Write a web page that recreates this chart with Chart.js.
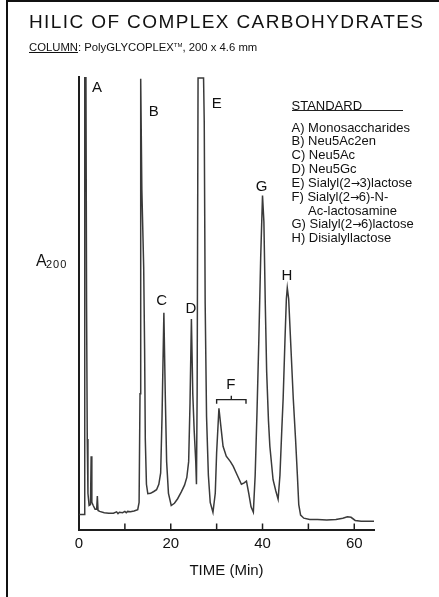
<!DOCTYPE html>
<html>
<head>
<meta charset="utf-8">
<script src="https://cdn.jsdelivr.net/npm/chart.js@4.4.1/dist/chart.umd.min.js"></script>
<style>
  html, body { margin: 0; padding: 0; background: #fff; }
  #wrap { position: relative; width: 439px; height: 597px; overflow: hidden; background: #fff; font-family: "Liberation Sans", Arial, sans-serif; color: #111; }
  #frameTop { position: absolute; left: 6px; top: 0; width: 433px; height: 2px; background: #111; }
  #frameLeft { position: absolute; left: 6px; top: 0; width: 2px; height: 597px; background: #111; }
  canvas { position: absolute; left: 0; top: 0; }
  .txt { position: absolute; white-space: nowrap; }
  #title { left: 29px; top: 12.2px; font-size: 19px; line-height: 19px; letter-spacing: 1.4px; }
  #subtitle { left: 29px; top: 40.4px; font-size: 11.3px; line-height: 11.3px; }
  #subtitle u { text-decoration-thickness: 1px; text-underline-offset: 1px; }
  #subtitle sup { font-size: 6px; vertical-align: 4px; }
  #stdHead { left: 291.5px; top: 98.7px; font-size: 13px; line-height: 13.85px; }
  #stdRule { position: absolute; left: 291.5px; top: 110.2px; width: 111px; height: 1.3px; background: #222; }
  #stdList { left: 291.5px; top: 120.5px; font-size: 13px; line-height: 13.85px; }
  #stdList div { height: 13.85px; overflow: visible; }
  #stdList .ind { padding-left: 16.5px; }
  #stdList .ar { font-family: "DejaVu Sans", sans-serif; font-size: 11px; line-height: 0; letter-spacing: -0.5px; }
  #yA { left: 36px; top: 253.2px; font-size: 16px; line-height: 16px; }
  #ySub { left: 46px; top: 259.2px; font-size: 11px; line-height: 11px; letter-spacing: 1px; }
</style>
</head>
<body>
<div id="wrap">
  <canvas id="c" width="439" height="597"></canvas>
  <div id="frameTop"></div>
  <div id="frameLeft"></div>
  <div class="txt" id="title">HILIC OF COMPLEX CARBOHYDRATES</div>
  <div class="txt" id="subtitle"><u>COLUMN</u>: PolyGLYCOPLEX<sup>TM</sup>, 200 x 4.6 mm</div>
  <div class="txt" id="stdHead">STANDARD</div>
  <div id="stdRule"></div>
  <div class="txt" id="stdList">
    <div>A) Monosaccharides</div>
    <div>B) Neu5Ac2en</div>
    <div>C) Neu5Ac</div>
    <div>D) Neu5Gc</div>
    <div>E) Sialyl(2<span class="ar">→</span>3)lactose</div>
    <div>F) Sialyl(2<span class="ar">→</span>6)-N-</div>
    <div class="ind">Ac-lactosamine</div>
    <div>G) Sialyl(2<span class="ar">→</span>6)lactose</div>
    <div>H) Disialyllactose</div>
  </div>
  <div class="txt" id="yA">A</div>
  <div class="txt" id="ySub">200</div>
</div>
<script>
// ---- Data ----
const times = [
  0, 1.1, 1.25, 1.5, 1.65, 1.8, 1.95, 2.2, 2.5, 2.65, 2.8, 3.1, 3.5, 3.85, 4.0, 4.15, 4.5,
  5.5, 6.5, 7.5, 8.2, 8.5, 8.8, 9.5, 10.0, 10.3, 10.6, 11.2, 12.0, 12.8,
  13.1, 13.3, 13.45, 13.7, 14.1, 14.3, 14.45, 14.7, 15.0,
  15.6, 16.3, 16.9, 17.4, 17.8, 18.1, 18.5, 18.8, 19.1, 19.5, 20.1,
  20.8, 21.5, 22.3, 23.0, 23.5, 23.9, 24.2, 24.5, 24.8, 25.1, 25.45, 25.6, 25.75,
  25.95, 27.15, 27.3, 27.5, 27.8, 28.2, 28.6, 29.2,
  29.7, 30.0, 30.5, 30.9, 31.4, 32.1, 33.0, 33.6, 34.5, 35.4, 36.0, 36.5, 37.0, 37.5, 38.0,
  38.4, 38.8, 39.2, 39.6, 40.0, 40.3, 40.6, 40.9, 41.3, 41.6, 42.3, 42.9, 43.4,
  43.8, 44.2, 44.5, 44.9, 45.2, 45.4, 45.7, 46.2, 46.7, 47.2, 47.6, 47.9, 48.3, 49.0, 50.3,
  52, 54, 56, 57.5, 58.5, 59.3, 60.2, 61.5, 63, 64.3
];
const absorbance = [
  3.3, 3.3, 105, 105, 50, 20, 8, 5.3, 5.5, 16.2, 6, 5.3, 4.5, 4.5, 7.4, 4.2, 4.0,
  3.7, 3.6, 3.6, 3.9, 3.5, 3.8, 3.7, 4.0, 3.7, 4.0, 3.9, 4.1, 4.4,
  6, 30, 99.6, 75, 58, 40, 20, 10, 7.9,
  8.0, 8.4, 8.8, 10, 12.5, 25, 47.9, 30, 15, 8, 5.3,
  5.8, 6.8, 8.3, 9.8, 11.5, 15, 28, 46.5, 30, 22, 15, 10, 30,
  99.8, 99.8, 90, 50, 25, 12, 6, 3.8,
  8, 17, 26.8, 23, 18.4, 16.2, 15, 14, 12, 10, 10.3, 10.7, 8, 5, 3.8,
  12, 26, 42, 60, 73.8, 68, 50, 35, 24, 18.4, 11, 8.5, 6.7,
  12, 22, 29, 42, 51, 53.4, 51, 40, 29, 20, 12, 5.5, 3.2, 2.5, 2.2,
  2.2, 2.1, 2.2, 2.5, 2.8, 2.7, 2.0, 1.8, 1.8, 1.8
];
const labeledTicks = [0, 20, 40, 60];
// Peak annotation letters and where they sit (time, level)
const peakNames  = ['A', 'B', 'C', 'D', 'E', 'F', 'G', 'H'];
const peakTimes  = [3.9, 16.3, 18.0, 24.4, 30.0, 33.1, 39.8, 45.3];
const peakLevels = [97.8, 92.6, 50.8, 49.0, 94.3, 32.2, 75.9, 56.2];
// Bracket spanning the F group: [start, middle, end] times and level
const bracketTimes = [30.0, 33.2, 36.4];
const bracketLevel = [28.7];

const points = times.map((t, i) => ({ x: t, y: absorbance[i] }));

const ink = '#1e1e1e';

const annotate = {
  id: 'annotate',
  afterDatasetsDraw(chart) {
    const ctx = chart.ctx;
    const xs = chart.scales.x, ys = chart.scales.y;
    ctx.save();
    // upward tick marks on the time axis
    ctx.strokeStyle = ink;
    ctx.lineWidth = 1.5;
    xs.ticks.forEach(tk => {
      const px = xs.getPixelForValue(tk.value);
      ctx.beginPath();
      ctx.moveTo(px, ys.bottom);
      ctx.lineTo(px, ys.bottom - 6);
      ctx.stroke();
    });
    // peak letters
    ctx.fillStyle = '#111';
    ctx.font = '15px "Liberation Sans", Arial, sans-serif';
    ctx.textAlign = 'center';
    ctx.textBaseline = 'middle';
    peakNames.forEach((n, i) => {
      ctx.fillText(n, xs.getPixelForValue(peakTimes[i]), ys.getPixelForValue(peakLevels[i]) + 1);
    });
    // bracket for F
    const x0 = xs.getPixelForValue(bracketTimes[0]);
    const xm = xs.getPixelForValue(bracketTimes[1]);
    const x1 = xs.getPixelForValue(bracketTimes[2]);
    const yb = ys.getPixelForValue(bracketLevel[0]);
    ctx.lineWidth = 1.4;
    ctx.strokeStyle = '#222';
    ctx.beginPath();
    ctx.moveTo(x0, yb + 4); ctx.lineTo(x0, yb); ctx.lineTo(x1, yb); ctx.lineTo(x1, yb + 4);
    ctx.moveTo(xm, yb); ctx.lineTo(xm, yb - 4);
    ctx.stroke();
    ctx.restore();
  }
};

new Chart(document.getElementById('c'), {
  type: 'line',
  data: {
    datasets: [{
      data: points,
      borderColor: '#3a3a3a',
      borderWidth: 1.5,
      pointRadius: 0,
      tension: 0,
      fill: false
    }]
  },
  options: {
    responsive: false,
    animation: false,
    devicePixelRatio: 1,
    layout: { padding: { left: 79, right: 65, top: 77, bottom: 13.5 } },
    plugins: { legend: { display: false }, tooltip: { enabled: false }, title: { display: false } },
    scales: {
      x: {
        type: 'linear',
        min: 0,
        max: 64.3,
        grid: { display: false, drawTicks: false },
        border: { display: true, color: ink, width: 2 },
        ticks: {
          stepSize: 10,
          includeBounds: false,
          padding: 5,
          color: '#111',
          font: { family: '"Liberation Sans", Arial, sans-serif', size: 15 },
          callback: v => (labeledTicks.includes(v) ? String(v) : '')
        },
        title: {
          display: true,
          text: 'TIME (Min)',
          color: '#111',
          font: { family: '"Liberation Sans", Arial, sans-serif', size: 15 },
          padding: { top: 4, bottom: 4 }
        }
      },
      y: {
        min: 0,
        max: 100,
        grid: { display: false, drawTicks: false },
        border: { display: true, color: ink, width: 2 },
        ticks: { display: false }
      }
    }
  },
  plugins: [annotate]
});
</script>
</body>
</html>
